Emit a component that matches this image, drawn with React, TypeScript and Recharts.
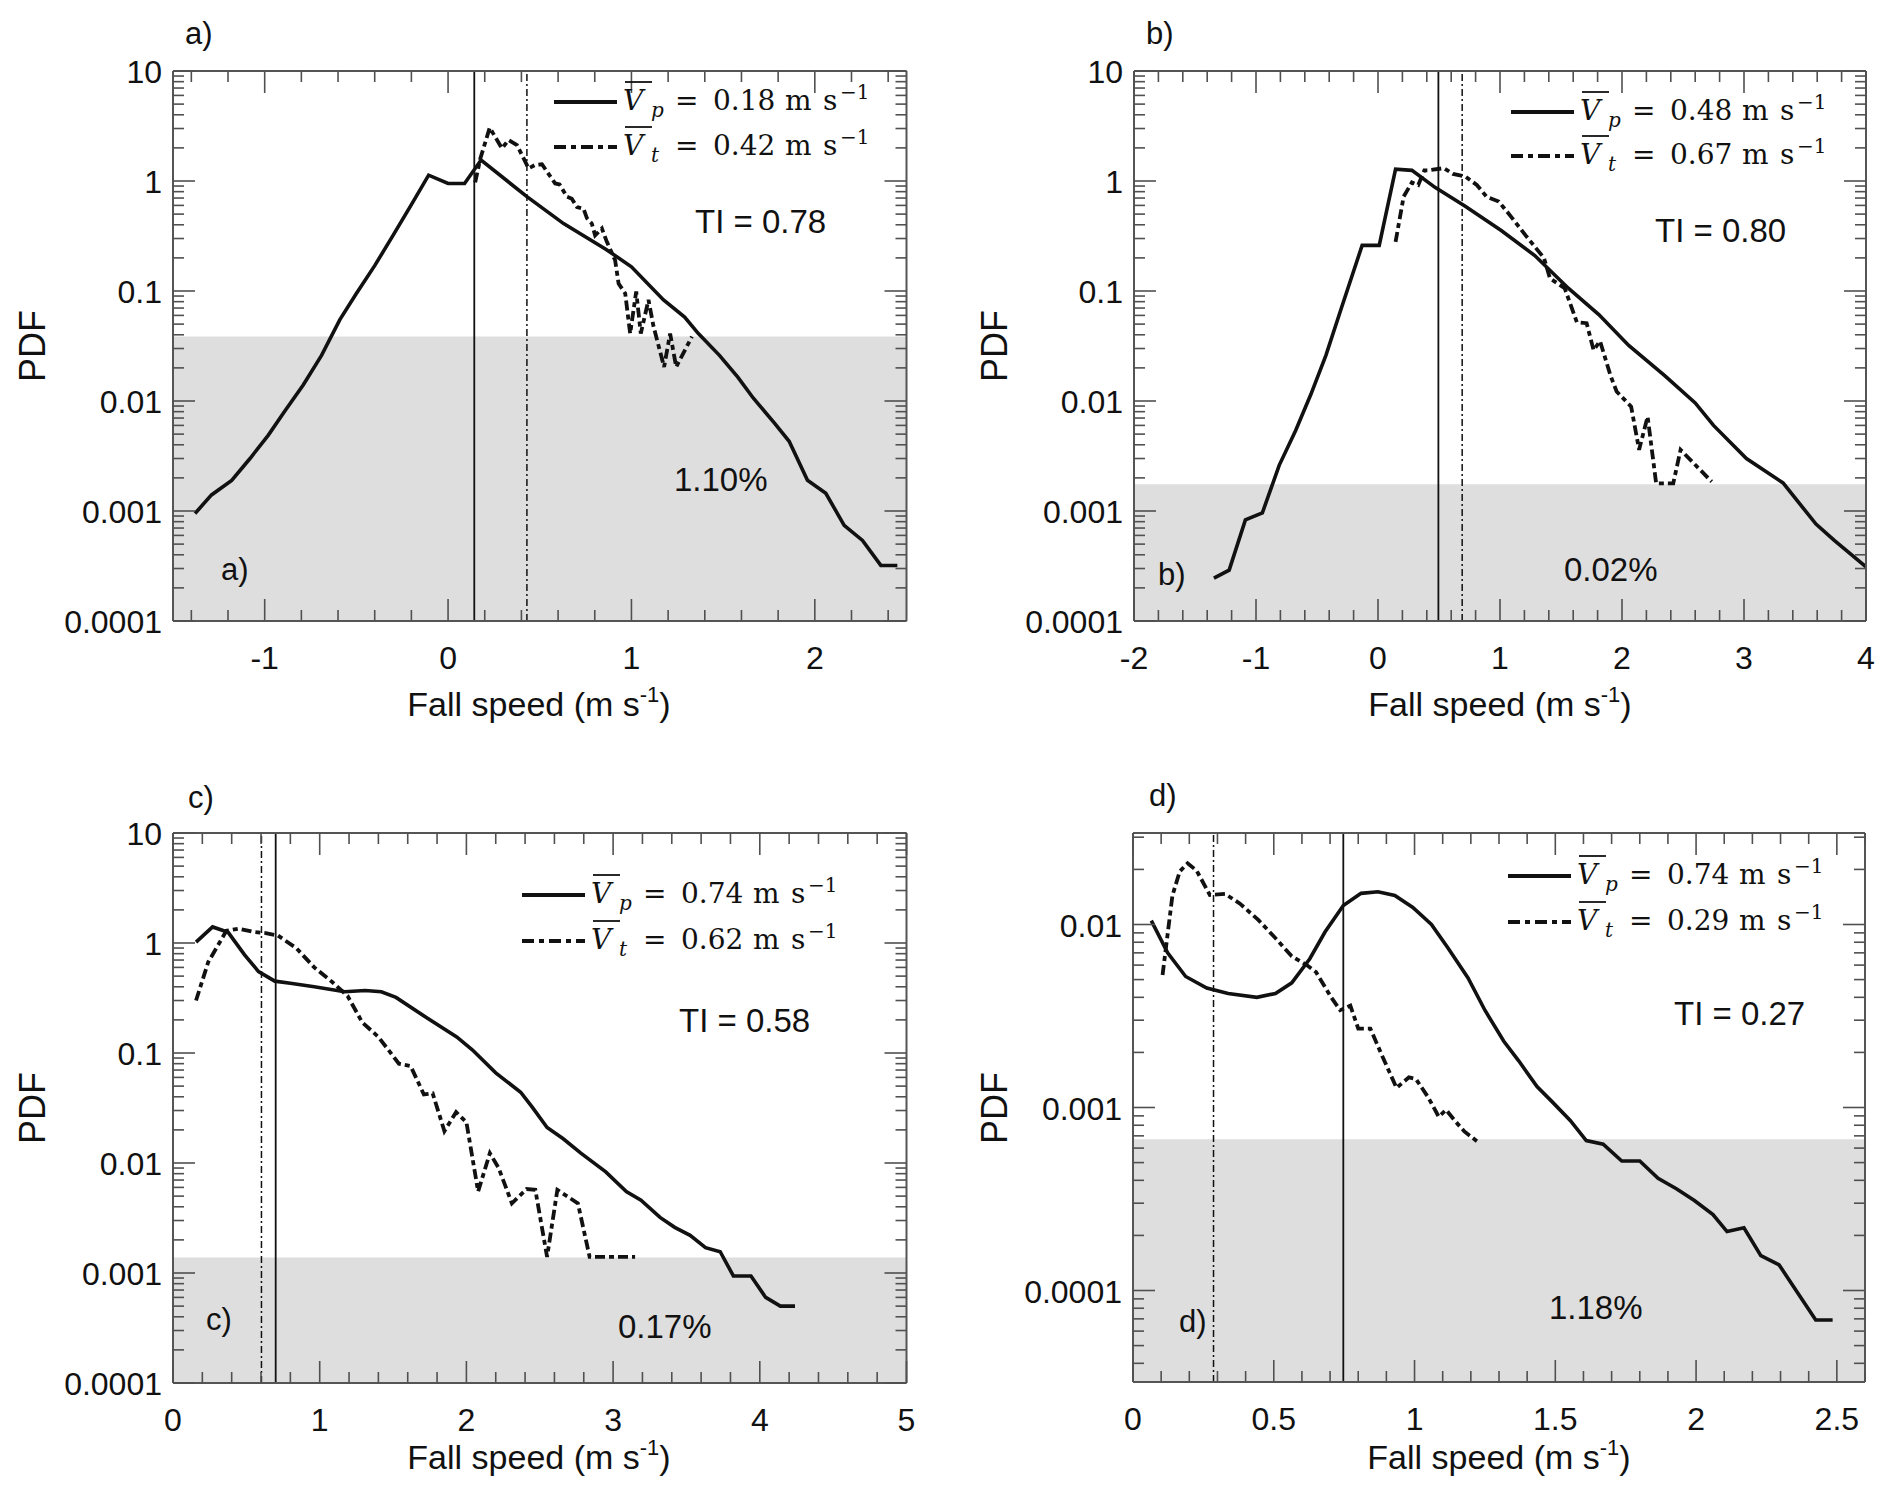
import React from 'react';
import { LineChart, Line, XAxis, YAxis, ReferenceArea, ReferenceLine } from 'recharts';

// ---------- Panel a ----------
const aVpX = [-1.38, -1.29, -1.18, -1.08, -0.98, -0.89, -0.79, -0.69, -0.59, -0.5, -0.4, -0.3, -0.2, -0.106, 0.0, 0.09, 0.18, 0.43, 0.63, 0.86, 1.0, 1.175, 1.29, 1.365, 1.48, 1.58, 1.665, 1.78, 1.86, 1.96, 2.06, 2.16, 2.26, 2.36, 2.45];
const aVpY = [0.00095, 0.0014, 0.0019, 0.003, 0.0049, 0.0081, 0.014, 0.026, 0.055, 0.095, 0.17, 0.32, 0.61, 1.13, 0.95, 0.95, 1.55, 0.72, 0.41, 0.24, 0.166, 0.083, 0.058, 0.041, 0.026, 0.0165, 0.0106, 0.0063, 0.0043, 0.0019, 0.00145, 0.00074, 0.00054, 0.00032, 0.00032];
const aVtX = [0.148, 0.176, 0.227, 0.267, 0.294, 0.33, 0.376, 0.403, 0.439, 0.475, 0.512, 0.539, 0.584, 0.608, 0.648, 0.675, 0.703, 0.739, 0.757, 0.784, 0.802, 0.839, 0.866, 0.911, 0.93, 0.966, 0.993, 1.026, 1.051, 1.093, 1.12, 1.178, 1.211, 1.244, 1.33];
const aVtY = [0.97, 1.6, 3.05, 2.36, 1.98, 2.36, 2.12, 1.72, 1.3, 1.4, 1.42, 1.22, 0.95, 0.93, 0.72, 0.69, 0.58, 0.56, 0.46, 0.41, 0.32, 0.37, 0.28, 0.19, 0.117, 0.095, 0.041, 0.099, 0.041, 0.083, 0.048, 0.0204, 0.041, 0.0204, 0.0385];

// ---------- Panel b ----------
const bVpX = [-1.345, -1.22, -1.087, -0.948, -0.81, -0.675, -0.55, -0.427, -0.3, -0.13, 0.01, 0.144, 0.278, 0.467, 0.715, 1.01, 1.285, 1.56, 1.81, 2.055, 2.35, 2.6, 2.75, 3.02, 3.32, 3.59, 3.74, 4.0];
const bVpY = [0.000245, 0.00029, 0.00083, 0.00096, 0.0026, 0.0054, 0.0115, 0.026, 0.07, 0.26, 0.26, 1.28, 1.25, 0.875, 0.59, 0.355, 0.21, 0.106, 0.061, 0.032, 0.017, 0.0096, 0.006, 0.003, 0.0018, 0.00076, 0.00054, 0.00031];
const bVtX = [0.144, 0.21, 0.278, 0.33, 0.38, 0.417, 0.54, 0.615, 0.715, 0.81, 0.89, 0.99, 1.087, 1.21, 1.36, 1.41, 1.53, 1.63, 1.71, 1.767, 1.82, 1.906, 1.956, 2.075, 2.14, 2.21, 2.28, 2.42, 2.48, 2.735];
const bVtY = [0.28, 0.72, 0.97, 0.92, 1.25, 1.25, 1.31, 1.16, 1.1, 0.92, 0.72, 0.65, 0.48, 0.32, 0.2, 0.13, 0.106, 0.052, 0.051, 0.029, 0.035, 0.017, 0.0122, 0.0089, 0.0036, 0.0072, 0.00178, 0.00178, 0.0036, 0.00185];

// ---------- Panel c ----------
const cVpX = [0.157, 0.27, 0.376, 0.488, 0.583, 0.694, 0.8, 0.963, 1.17, 1.31, 1.42, 1.52, 1.727, 1.934, 2.04, 2.2, 2.37, 2.45, 2.55, 2.66, 2.78, 2.95, 3.09, 3.19, 3.32, 3.42, 3.525, 3.63, 3.73, 3.82, 3.94, 4.04, 4.14, 4.24];
const cVpY = [1.02, 1.4, 1.25, 0.78, 0.55, 0.45, 0.43, 0.4, 0.36, 0.37, 0.36, 0.32, 0.21, 0.14, 0.107, 0.066, 0.044, 0.032, 0.021, 0.0166, 0.0123, 0.0083, 0.0055, 0.0046, 0.0032, 0.0026, 0.0022, 0.0017, 0.00156, 0.00094, 0.00094, 0.0006, 0.0005, 0.0005];
const cVtX = [0.157, 0.24, 0.364, 0.446, 0.55, 0.632, 0.715, 0.84, 0.963, 1.087, 1.19, 1.29, 1.4, 1.54, 1.62, 1.71, 1.77, 1.85, 1.93, 2.0, 2.08, 2.16, 2.22, 2.31, 2.41, 2.47, 2.55, 2.62, 2.76, 2.84, 3.15];
const cVtY = [0.3, 0.67, 1.29, 1.35, 1.26, 1.23, 1.17, 0.9, 0.6, 0.44, 0.33, 0.19, 0.14, 0.08, 0.076, 0.042, 0.043, 0.0195, 0.029, 0.0235, 0.0055, 0.0123, 0.009, 0.0043, 0.0058, 0.0057, 0.0014, 0.0057, 0.0043, 0.0014, 0.0014];

// ---------- Panel d ----------
const dVpX = [0.065, 0.123, 0.187, 0.262, 0.338, 0.44, 0.506, 0.564, 0.628, 0.682, 0.747, 0.81, 0.87, 0.93, 0.994, 1.06, 1.12, 1.19, 1.25, 1.317, 1.37, 1.435, 1.49, 1.553, 1.61, 1.67, 1.736, 1.8, 1.865, 1.93, 1.994, 2.06, 2.11, 2.17, 2.23, 2.295, 2.36, 2.425, 2.485];
const dVpY = [0.0105, 0.007, 0.0052, 0.0045, 0.0042, 0.004, 0.0042, 0.0048, 0.0065, 0.0091, 0.0127, 0.0148, 0.0151, 0.0144, 0.0124, 0.01, 0.0074, 0.0051, 0.0034, 0.0023, 0.0018, 0.0013, 0.00107, 0.00085, 0.00066, 0.00063, 0.00051, 0.00051, 0.00041, 0.00036, 0.00031, 0.00026, 0.00021, 0.00022, 0.000155, 0.000138, 0.0000975, 0.000069, 0.000069];
const dVtX = [0.105, 0.14, 0.166, 0.194, 0.226, 0.273, 0.327, 0.38, 0.445, 0.51, 0.564, 0.617, 0.65, 0.704, 0.736, 0.772, 0.8, 0.843, 0.886, 0.936, 0.98, 1.005, 1.048, 1.086, 1.112, 1.145, 1.177, 1.224];
const dVtY = [0.0053, 0.0144, 0.0195, 0.0216, 0.0197, 0.0145, 0.0147, 0.013, 0.0106, 0.0083, 0.0067, 0.006, 0.0055, 0.004, 0.0034, 0.0036, 0.0027, 0.0027, 0.0019, 0.00128, 0.00146, 0.00143, 0.00114, 0.00089, 0.00097, 0.00084, 0.00074, 0.00065];

// mean fall-speed markers, shading thresholds, annotations
const vLineSolid = [0.143, 0.495, 0.70, 0.747];
const vLineDash = [0.43, 0.69, 0.603, 0.286];
const shadeTops = [0.0385, 0.00175, 0.00138, 0.00067];
const vpLabels = ['0.18', '0.48', '0.74', '0.74'];
const vtLabels = ['0.42', '0.67', '0.62', '0.29'];
const tiLabels = ['TI = 0.78', 'TI = 0.80', 'TI = 0.58', 'TI = 0.27'];
const pctLabels = ['1.10%', '0.02%', '0.17%', '1.18%'];
const panelLetters = ['a)', 'b)', 'c)', 'd)'];

const zip = (xs: number[], ys: number[]) => xs.map((x, i) => ({ x, y: ys[i] }));

const linTicks = (lo: number, hi: number, step: number) => {
  const out: number[] = [];
  const n = Math.round((hi - lo) / step);
  for (let i = 0; i <= n; i++) out.push(+(lo + i * step).toFixed(6));
  return out;
};
const logTicks = (lo: number, hi: number) => {
  const out: number[] = [];
  for (let e = -6; e <= 2; e++)
    for (let m = 1; m <= 9; m++) {
      const v = +(m * Math.pow(10, e)).toPrecision(6);
      if (v >= lo * 0.9999 && v <= hi * 1.0001) out.push(v);
    }
  return out;
};

const SANS = '"Liberation Sans", Arial, Helvetica, sans-serif';
const SERIF = '"DejaVu Serif", "Liberation Serif", serif';
const TICK = '#505050';
const INK = '#111';

const isMajorLin = (v: number, majors: number[]) => majors.some((m) => Math.abs(m - v) < 1e-6);
const isMajorLog = (v: number, majors: number[]) => majors.some((m) => Math.abs(Math.log10(m) - Math.log10(v)) < 1e-6);

const panels = [
  { left: 172.5, top: 71, w: 733.5, h: 550, xDomain: [-1.5, 2.5], xTicks: linTicks(-1.4, 2.4, 0.2), xMajors: [-1, 0, 1, 2], yDomain: [1e-4, 10], yMajors: [1e-4, 1e-3, 1e-2, 0.1, 1, 10], solid: zip(aVpX, aVpY), dashed: zip(aVtX, aVtY) },
  { left: 1134, top: 71, w: 732, h: 550, xDomain: [-2, 4], xTicks: linTicks(-2, 4, 0.2), xMajors: [-2, -1, 0, 1, 2, 3, 4], yDomain: [1e-4, 10], yMajors: [1e-4, 1e-3, 1e-2, 0.1, 1, 10], solid: zip(bVpX, bVpY), dashed: zip(bVtX, bVtY) },
  { left: 172.5, top: 833, w: 733.5, h: 550, xDomain: [0, 5], xTicks: linTicks(0, 5, 0.2), xMajors: [0, 1, 2, 3, 4, 5], yDomain: [1e-4, 10], yMajors: [1e-4, 1e-3, 1e-2, 0.1, 1, 10], solid: zip(cVpX, cVpY), dashed: zip(cVtX, cVtY) },
  { left: 1133, top: 833, w: 732, h: 549, xDomain: [0, 2.6], xTicks: linTicks(0, 2.6, 0.1), xMajors: [0, 0.5, 1, 1.5, 2, 2.5], yDomain: [Math.pow(10, -4.5), Math.pow(10, -1.5)], yMajors: [1e-4, 1e-3, 1e-2], solid: zip(dVpX, dVpY), dashed: zip(dVtX, dVtY) },
];

// text layout (page pixels)
const textLayout = [
  { letterTop: [185, 44], letterIn: [221, 580], ti: [695, 233], pct: [674, 491], legX: 623, legY: [110, 155], pdf: [45, 346], xlab: [539, 716] },
  { letterTop: [1146, 44], letterIn: [1158, 585], ti: [1655, 242], pct: [1564, 581], legX: 1580, legY: [120, 164], pdf: [1007, 346], xlab: [1500, 716] },
  { letterTop: [188, 808], letterIn: [206, 1330], ti: [679, 1032], pct: [618, 1338], legX: 591, legY: [903, 949], pdf: [45, 1108], xlab: [539, 1469] },
  { letterTop: [1149, 806], letterIn: [1179, 1332], ti: [1674, 1025], pct: [1549, 1319], legX: 1577, legY: [884, 930], pdf: [1007, 1108], xlab: [1499, 1469] },
];

const ML = 130, MR = 10, MT = 30, MB = 60;
const DASH = '10 4 5 4';

function Panel({ idx }: { idx: number }) {
  const p = panels[idx];
  const fmt = (v: number) => String(v);
  const bottomTick = (props: any) => {
    const { x, y, payload } = props;
    const major = isMajorLin(payload.value, p.xMajors);
    return (
      <g>
        <line x1={x} x2={x} y1={y} y2={y - (major ? 22 : 11)} stroke={TICK} strokeWidth={1.6} />
        {major && (
          <text x={x} y={y + 48} textAnchor="middle" fontSize={32} fontFamily={SANS} fill={INK}>
            {fmt(payload.value)}
          </text>
        )}
      </g>
    );
  };
  const topTick = (props: any) => {
    const { x, y, payload } = props;
    const major = isMajorLin(payload.value, p.xMajors);
    return <line x1={x} x2={x} y1={y} y2={y + (major ? 22 : 11)} stroke={TICK} strokeWidth={1.6} />;
  };
  const leftTick = (props: any) => {
    const { x, y, payload } = props;
    const major = isMajorLog(payload.value, p.yMajors);
    return (
      <g>
        <line x1={x} x2={x + (major ? 22 : 11)} y1={y} y2={y} stroke={TICK} strokeWidth={1.6} />
        {major && (
          <text x={x - 11} y={y + 12} textAnchor="end" fontSize={32} fontFamily={SANS} fill={INK}>
            {fmt(payload.value)}
          </text>
        )}
      </g>
    );
  };
  const rightTick = (props: any) => {
    const { x, y, payload } = props;
    const major = isMajorLog(payload.value, p.yMajors);
    return <line x1={x} x2={x - (major ? 22 : 11)} y1={y} y2={y} stroke={TICK} strokeWidth={1.6} />;
  };
  const axisLine = { stroke: '#555', strokeWidth: 2 };
  const yTicks = logTicks(p.yDomain[0], p.yDomain[1]);
  return (
    <div style={{ position: 'absolute', left: p.left - ML, top: p.top - MT }}>
      <LineChart width={p.w + ML + MR} height={p.h + MT + MB} margin={{ top: 0, right: 0, bottom: 0, left: 0 }}>
        <XAxis xAxisId="x" type="number" dataKey="x" domain={p.xDomain} allowDataOverflow ticks={p.xTicks} interval={0}
          orientation="bottom" height={MB} tickSize={0} tickMargin={0} tickLine={false} axisLine={axisLine} tick={bottomTick} />
        <XAxis xAxisId="xt" type="number" dataKey="x" domain={p.xDomain} allowDataOverflow ticks={p.xTicks} interval={0}
          orientation="top" height={MT} tickSize={0} tickMargin={0} tickLine={false} axisLine={axisLine} tick={topTick} />
        <YAxis yAxisId="y" type="number" scale="log" domain={p.yDomain} allowDataOverflow ticks={yTicks} interval={0}
          orientation="left" width={ML} tickSize={0} tickMargin={0} tickLine={false} axisLine={axisLine} tick={leftTick} />
        <YAxis yAxisId="yr" type="number" scale="log" domain={p.yDomain} allowDataOverflow ticks={yTicks} interval={0}
          orientation="right" width={MR} tickSize={0} tickMargin={0} tickLine={false} axisLine={axisLine} tick={rightTick} />
        <ReferenceArea xAxisId="x" yAxisId="y" x1={p.xDomain[0]} x2={p.xDomain[1]} y1={p.yDomain[0]} y2={shadeTops[idx]}
          fill="#dedede" fillOpacity={1} stroke="none" />
        <ReferenceLine xAxisId="x" yAxisId="y" x={vLineSolid[idx]} stroke={INK} strokeWidth={1.8} />
        <ReferenceLine xAxisId="x" yAxisId="y" x={vLineDash[idx]} stroke={INK} strokeWidth={1.5} strokeDasharray="7 3 2 3" />
        <Line xAxisId="x" yAxisId="y" data={p.solid} dataKey="y" type="linear" stroke={INK} strokeWidth={3.6}
          dot={false} isAnimationActive={false} />
        <Line xAxisId="x" yAxisId="y" data={p.dashed} dataKey="y" type="linear" stroke={INK} strokeWidth={3.8}
          strokeDasharray={DASH} dot={false} isAnimationActive={false} />
      </LineChart>
    </div>
  );
}

function LegendRow({ x, y, sub, val, dashed }: { x: number; y: number; sub: string; val: string; dashed: boolean }) {
  return (
    <g>
      <line x1={x - 69} x2={x - 6} y1={y - 8} y2={y - 8} stroke={INK} strokeWidth={4}
        strokeDasharray={dashed ? '12 5 5 5' : undefined} />
      <line x1={x + 2} x2={x + 29} y1={y - 28} y2={y - 28} stroke={INK} strokeWidth={1.8} />
      <text y={y} fontFamily={SERIF} fontSize={28} fill={INK}>
        <tspan x={x} fontStyle="italic">V</tspan>
        <tspan x={x + 28} dy={7} fontStyle="italic" fontSize={20}>{sub}</tspan>
        <tspan x={x + 52} dy={-7}>=</tspan>
        <tspan x={x + 90}>{val}</tspan>
        <tspan x={x + 162}>m</tspan>
        <tspan x={x + 200}>s</tspan>
        <tspan x={x + 217} dy={-11} fontSize={20}>−1</tspan>
      </text>
    </g>
  );
}

function Overlay() {
  return (
    <svg width={1892} height={1505} style={{ position: 'absolute', left: 0, top: 0, pointerEvents: 'none' }}>
      {textLayout.map((t, i) => (
        <g key={i}>
          <text x={t.letterTop[0]} y={t.letterTop[1]} fontFamily={SANS} fontSize={31} fill={INK}>{panelLetters[i]}</text>
          <text x={t.letterIn[0]} y={t.letterIn[1]} fontFamily={SANS} fontSize={31} fill={INK}>{panelLetters[i]}</text>
          <text x={t.ti[0]} y={t.ti[1]} fontFamily={SANS} fontSize={33} fill={INK}>{tiLabels[i]}</text>
          <text x={t.pct[0]} y={t.pct[1]} fontFamily={SANS} fontSize={33} fill={INK}>{pctLabels[i]}</text>
          <LegendRow x={t.legX} y={t.legY[0]} sub="p" val={vpLabels[i]} dashed={false} />
          <LegendRow x={t.legX} y={t.legY[1]} sub="t" val={vtLabels[i]} dashed={true} />
          <text transform={`translate(${t.pdf[0]},${t.pdf[1]}) rotate(-90)`} textAnchor="middle" fontFamily={SANS} fontSize={36} fill={INK}>PDF</text>
          <text x={t.xlab[0]} y={t.xlab[1]} textAnchor="middle" fontFamily={SANS} fontSize={34} fill={INK}>
            Fall speed (m s<tspan dy={-14} fontSize={22}>-1</tspan><tspan dy={14}>)</tspan>
          </text>
        </g>
      ))}
    </svg>
  );
}

export default function App() {
  return (
    <div style={{ position: 'absolute', left: 0, top: 0, width: 1892, height: 1505, background: '#fff', overflow: 'hidden' }}>
      {panels.map((_, i) => (
        <Panel key={i} idx={i} />
      ))}
      <Overlay />
    </div>
  );
}
